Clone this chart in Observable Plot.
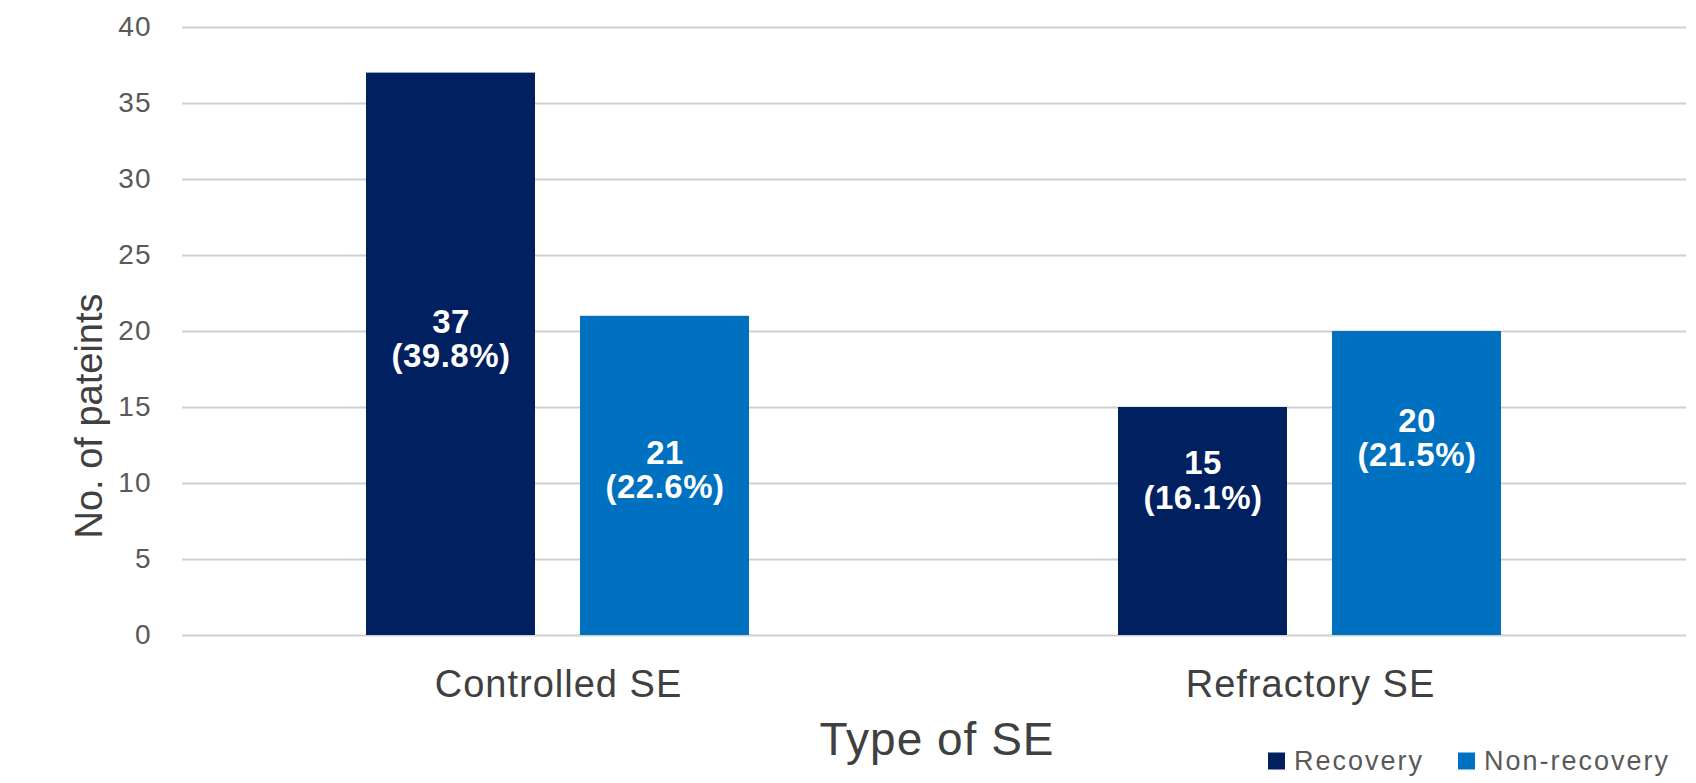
<!DOCTYPE html>
<html>
<head>
<meta charset="utf-8">
<script src="https://cdn.jsdelivr.net/npm/d3@7"></script>
<script src="https://cdn.jsdelivr.net/npm/@observablehq/plot@0.6"></script>
<style>
  html, body { margin: 0; padding: 0; background: #ffffff; }
  #wrap { position: relative; width: 1696px; height: 783px; font-family: "Liberation Sans", Arial, sans-serif; overflow: hidden; }
  #wrap svg g[aria-label="y-axis tick label"] text { letter-spacing: 1px; }
  #wrap svg g[aria-label="fx-axis tick label"] text { letter-spacing: 1px; }
  #wrap svg g[aria-label="text"] text { letter-spacing: 0.5px; }
  .ytitle { position: absolute; left: 89px; top: 416px; transform: translate(-50%, -50%) rotate(-90deg); font-size: 38px; line-height: 1; color: #404040; white-space: nowrap; }
  .xtitle { position: absolute; left: 937px; top: 739px; transform: translate(-50%, -50%); font-size: 46px; line-height: 1; color: #404040; white-space: nowrap; letter-spacing: 1px; }
  .legend { position: absolute; left: 1268px; top: 761px; transform: translateY(-50%); display: flex; align-items: center; font-size: 27px; line-height: 1; color: #595959; white-space: nowrap; letter-spacing: 2px; }
  .legend .sw { display: inline-block; width: 17px; height: 17px; margin-right: 9px; }
  .legend .item { display: flex; align-items: center; margin-right: 34px; }
</style>
</head>
<body>
<div id="wrap"></div>
<script>
// ---- data ----
const categories = ["Controlled SE", "Refractory SE"];
const seriesNames = ["Recovery", "Non-recovery"];
const recoveryValues = [37, 15];
const nonRecoveryValues = [21, 20];
const recoveryPercents = ["39.8%", "16.1%"];
const nonRecoveryPercents = ["22.6%", "21.5%"];
// where each data label sits, in data units (y value)
const recoveryLabelAt = [19.5, 10.2];
const nonRecoveryLabelAt = [10.9, 13.0];
const yTicks = [0, 5, 10, 15, 20, 25, 30, 35, 40];
const seriesColors = ["#002060", "#0070C0"];
const xTitle = "Type of SE";
const yTitle = "No. of pateints";

const rows = categories.flatMap((c, i) => [
  { category: c, series: seriesNames[0], value: recoveryValues[i], pct: recoveryPercents[i], labelAt: recoveryLabelAt[i] },
  { category: c, series: seriesNames[1], value: nonRecoveryValues[i], pct: nonRecoveryPercents[i], labelAt: nonRecoveryLabelAt[i] }
]);

const chart = Plot.plot({
  width: 1696,
  height: 783,
  marginTop: 27,
  marginBottom: 148,
  marginLeft: 182,
  marginRight: 10,
  style: { fontFamily: "'Liberation Sans', Arial, sans-serif", background: "#ffffff", overflow: "visible" },
  fx: { domain: categories, paddingInner: 0, paddingOuter: 0, label: null },
  x: { domain: seriesNames, paddingInner: 0.21, paddingOuter: 0.862, axis: null },
  y: { domain: [0, 40], label: null },
  color: { domain: seriesNames, range: seriesColors },
  marks: [
    Plot.ruleY(yTicks, { stroke: "#d0d0d0", strokeWidth: 2 }),
    Plot.barY(rows, { fx: "category", x: "series", y: "value", fill: "series" }),
    Plot.text(rows, {
      fx: "category", x: "series", y: "labelAt",
      text: d => `${d.value}\n(${d.pct})`,
      fill: "#ffffff", fontWeight: "bold", fontSize: 33, lineHeight: 1.04
    }),
    Plot.axisY(yTicks, { tickSize: 0, tickPadding: 31, fontSize: 28, color: "#595959", label: null }),
    Plot.axisFx({ anchor: "bottom", tickSize: 0, tickPadding: 35, fontSize: 38, color: "#404040", label: null })
  ]
});

const wrap = document.getElementById("wrap");
wrap.appendChild(chart);

const yt = document.createElement("div");
yt.className = "ytitle";
yt.textContent = yTitle;
wrap.appendChild(yt);

const xt = document.createElement("div");
xt.className = "xtitle";
xt.textContent = xTitle;
wrap.appendChild(xt);

const lg = document.createElement("div");
lg.className = "legend";
seriesNames.forEach((s, i) => {
  const item = document.createElement("span");
  item.className = "item";
  const sw = document.createElement("span");
  sw.className = "sw";
  sw.style.background = seriesColors[i];
  const tx = document.createElement("span");
  tx.textContent = s;
  item.appendChild(sw);
  item.appendChild(tx);
  lg.appendChild(item);
});
wrap.appendChild(lg);
</script>
</body>
</html>
